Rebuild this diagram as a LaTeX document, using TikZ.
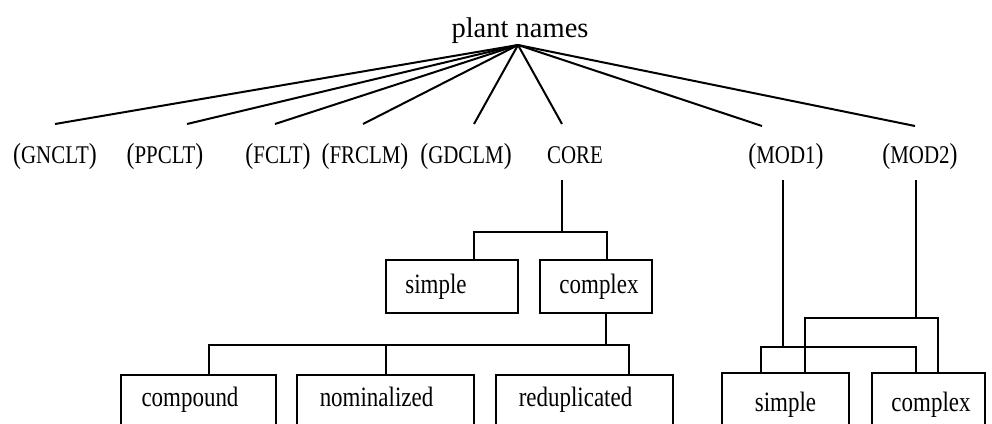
\documentclass[tikz,border=0pt]{standalone}
\usepackage{fontspec}
\setmainfont{Liberation Serif}[FakeStretch=0.82]
\newfontfamily\titlefont{Liberation Serif}
\newcommand{\bp}[1]{{\fontsize{29}{29}\selectfont #1}}
\tikzset{
  lbl/.style={inner sep=0pt, anchor=base, font=\fontsize{25.5}{25.5}\selectfont},
  ttl/.style={inner sep=0pt, anchor=base, font=\titlefont\fontsize{28.5}{28.5}\selectfont},
  boxnode/.style={draw, line width=2.6pt, inner sep=0pt, font=\fontsize{28}{28}\selectfont},
  fan/.style={line width=2pt},
  tree/.style={line width=2.3pt}
}
\begin{document}
\begin{tikzpicture}[x=1pt,y=-1pt]
\useasboundingbox (0,0) rectangle (992,423);
\clip (0,0) rectangle (992,423);
% title
\node[ttl] (title) at (520,37) {plant names};
\coordinate (apex) at (518,45);
% labels
\node[lbl] (gnclt) at (55,163) {\bp{(}GNCLT\bp{)}};
\node[lbl] (ppclt) at (165,163) {\bp{(}PPCLT\bp{)}};
\node[lbl] (fclt) at (278,163) {\bp{(}FCLT\bp{)}};
\node[lbl] (frclm) at (365,163) {\bp{(}FRCLM\bp{)}};
\node[lbl] (gdclm) at (466,163) {\bp{(}GDCLM\bp{)}};
\node[lbl] (core) at (575,163) {CORE};
\node[lbl] (mod1) at (786,163) {\bp{(}MOD1\bp{)}};
\node[lbl] (mod2) at (920,163) {\bp{(}MOD2\bp{)}};
% fan ends
\coordinate (e1) at (55,124);
\coordinate (e2) at (187,124);
\coordinate (e3) at (275,124);
\coordinate (e4) at (363,124);
\coordinate (e5) at (474,124);
\coordinate (e6) at (562,124);
\coordinate (e7) at (762,126);
\coordinate (e8) at (915,126);
\foreach \e in {e1,e2,e3,e4,e5,e6,e7,e8}{\draw[fan] (apex) -- (\e);}
% first level boxes
\node[boxnode, minimum width=132, minimum height=53] (simple1) at (452,286.5) {simple\hspace*{32pt}};
\node[boxnode, minimum width=112, minimum height=53] (complex1) at (596,286.5) {\hspace*{6pt}complex};
% bottom boxes
\tikzset{lowbox/.style={boxnode, minimum height=60, text height=19pt, text depth=17pt}}
\node[lowbox, minimum width=155] (compound) at (198.5,405) {compound\hspace*{17pt}};
\node[lowbox, minimum width=177] (nominal) at (385.5,405) {nominalized\hspace*{18pt}};
\node[lowbox, minimum width=177] (redup) at (584.5,405) {reduplicated\hspace*{18pt}};
\tikzset{modbox/.style={boxnode, minimum height=64, text height=19pt, text depth=7pt}}
\node[modbox, minimum width=127] (msimple) at (785.5,405) {simple};
\node[modbox, minimum width=113] (mcomplex) at (928.5,405) {\hspace*{5pt}complex};
% CORE tree
\coordinate (coreStem) at (562,180);
\coordinate (coreJ) at (562,232);
\coordinate (s1top) at (474,260);
\coordinate (c1top) at (607,260);
\draw[tree] (coreStem) -- (coreJ);
\draw[tree] (s1top) |- (coreJ) -| (c1top);
% complex tree
\coordinate (c1bot) at (606,313);
\coordinate (cJ) at (606,345);
\coordinate (compTop) at (209,375);
\coordinate (nomTop) at (386,375);
\coordinate (nomJ) at (386,345);
\coordinate (redTop) at (629,375);
\draw[tree] (c1bot) -- (cJ);
\draw[tree] (compTop) |- (cJ) -| (redTop);
\draw[tree] (nomJ) -- (nomTop);
% MOD1
\coordinate (m1Stem) at (783,180);
\coordinate (m1J) at (783,347);
\coordinate (m1a) at (761,373);
\coordinate (m1b) at (916,373);
\draw[tree] (m1Stem) -- (m1J);
\draw[tree] (m1a) |- (m1J) -| (m1b);
% MOD2
\coordinate (m2Stem) at (916,180);
\coordinate (m2J) at (916,318);
\coordinate (m2a) at (805,373);
\coordinate (m2b) at (938,373);
\draw[tree] (m2Stem) -- (m2J);
\draw[tree] (m2a) |- (m2J) -| (m2b);
\end{tikzpicture}
\end{document}
